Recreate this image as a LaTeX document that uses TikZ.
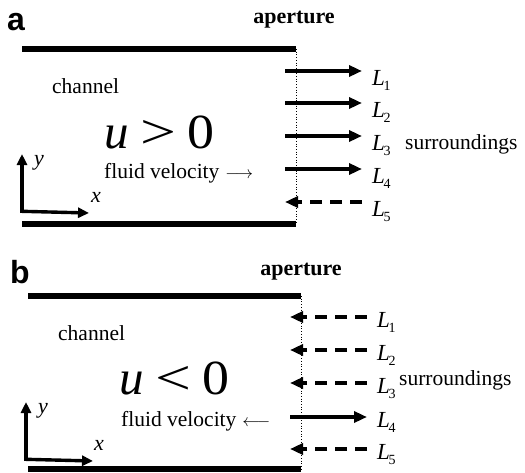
\documentclass[tikz,border=0pt]{standalone}
\usepackage{fontspec}
\setmainfont{Liberation Serif}
\setsansfont{Liberation Sans}
\usetikzlibrary{arrows.meta}
\newcommand{\Lsub}[1]{\textit{L}\kern-0.06em\raisebox{-0.26em}{\fontsize{14}{14}\selectfont #1}}
\newcommand{\bigformula}[1]{{\itshape u}\hspace{12pt}\scalebox{1.3}[1]{#1}\hspace{11pt}\scalebox{1.1}[1]{0}}
\begin{document}
\begin{tikzpicture}[x=1pt,y=-1pt,
  txt/.style={font=\fontsize{21.5}{24}\selectfont, inner sep=0pt},
  ltxt/.style={font=\fontsize{23}{25}\selectfont, inner sep=0pt},
  big/.style={font=\fontsize{49}{52}\selectfont, inner sep=0pt},
  boldtxt/.style={font=\fontsize{22}{24}\selectfont\bfseries, inner sep=0pt},
  panel/.style={font=\fontsize{32}{34}\selectfont\sffamily\bfseries, inner sep=0pt},
  wall/.style={line width=6pt},
  aper/.style={line width=0.7pt, dotted},
  flow/.style={line width=3.4pt, -{Triangle[length=13pt,width=11pt]}},
  back/.style={flow, dash pattern=on 12pt off 8pt},
  axis/.style={line width=3.4pt, -{Triangle[length=11pt,width=10pt]}}]
\useasboundingbox (0,0) rectangle (525,472);
% ---------- panel a ----------
\node[panel] (la) at (16,22) {a};
\node[boldtxt, anchor=base] (apa) at (294,23) {aperture};
\coordinate (a-tl) at (22,49); \coordinate (a-tr) at (296,49);
\coordinate (a-bl) at (22,224); \coordinate (a-br) at (296,224);
\draw[wall] (a-tl) -- (a-tr);
\draw[wall] (a-bl) -- (a-br);
\draw[aper] (a-tr) -- (a-br);
\foreach \i/\y in {1/71,2/103,3/136,4/169,5/202}{
  \coordinate (a-s\i) at (285,\y);
  \coordinate (a-e\i) at (362,\y);
  \node[ltxt, anchor=base west] (a-L\i) at (372,\y+14) {\Lsub{\i}};
}
\draw[flow] (a-s1) -- (a-e1);
\draw[flow] (a-s2) -- (a-e2);
\draw[flow] (a-s3) -- (a-e3);
\draw[flow] (a-s4) -- (a-e4);
\draw[back] (a-e5) -- (a-s5);
\node[txt, anchor=base west] (a-sur) at (405,149) {surroundings};
\node[txt, anchor=base west] (a-ch) at (52,93) {channel};
\node[big, anchor=base west] (a-u) at (104,148) {\bigformula{>}};
\node[txt, anchor=base west] (a-fv) at (104,178) {fluid velocity\hspace{6pt}{\fontsize{17}{17}\selectfont$\longrightarrow$}};
\coordinate (a-o) at (22,213);
\coordinate (a-y) at (22,154);
\coordinate (a-x) at (89,213);
\draw[axis] (a-o) -- (a-y);
\draw[axis] ([yshift=1.7pt]a-o) -- (a-x);
\node[txt, font=\fontsize{22}{24}\selectfont\itshape] (a-yl) at (39,163) {y};
\node[txt, font=\fontsize{22}{24}\selectfont\itshape] (a-xl) at (96,197) {x};
% ---------- panel b ----------
\node[panel] (lb) at (20,272) {b};
\node[boldtxt, anchor=base] (apb) at (301,275) {aperture};
\coordinate (b-tl) at (28,296); \coordinate (b-tr) at (301,296);
\coordinate (b-bl) at (28,469); \coordinate (b-br) at (301,469);
\draw[wall] (b-tl) -- (b-tr);
\draw[wall] (b-bl) -- (b-br);
\draw[aper] (b-tr) -- (b-br);
\foreach \i/\y in {1/317,2/350,3/383,4/417,5/449}{
  \coordinate (b-s\i) at (290,\y);
  \coordinate (b-e\i) at (367,\y);
  \node[ltxt, anchor=base west] (b-L\i) at (377,\y+10) {\Lsub{\i}};
}
\draw[back] (b-e1) -- (b-s1);
\draw[back] (b-e2) -- (b-s2);
\draw[back] (b-e3) -- (b-s3);
\draw[flow] (b-s4) -- (b-e4);
\draw[back] (b-e5) -- (b-s5);
\node[txt, anchor=base west] (b-sur) at (399,385) {surroundings};
\node[txt, anchor=base west] (b-ch) at (58,340) {channel};
\node[big, anchor=base west] (b-u) at (119,394) {\bigformula{<}};
\node[txt, anchor=base west] (b-fv) at (121,426) {fluid velocity\hspace{6pt}{\fontsize{17}{17}\selectfont$\longleftarrow$}};
\coordinate (b-o) at (26,461);
\coordinate (b-y) at (26,402);
\coordinate (b-x) at (93,461);
\draw[axis] (b-o) -- (b-y);
\draw[axis] ([yshift=1.7pt]b-o) -- (b-x);
\node[txt, font=\fontsize{22}{24}\selectfont\itshape] (b-yl) at (43,411) {y};
\node[txt, font=\fontsize{22}{24}\selectfont\itshape] (b-xl) at (99,445) {x};
\end{tikzpicture}
\end{document}
